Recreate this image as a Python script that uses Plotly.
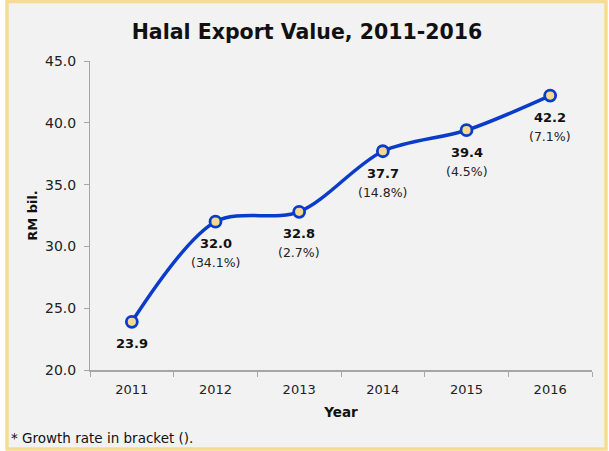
import plotly.graph_objects as go

years = ["2011", "2012", "2013", "2014", "2015", "2016"]
values = [23.9, 32.0, 32.8, 37.7, 39.4, 42.2]
growth = ["", "(34.1%)", "(2.7%)", "(14.8%)", "(4.5%)", "(7.1%)"]
y_ticks = [20, 25, 30, 35, 40, 45]

FONT = "DejaVu Sans"
W, H = 609, 451
ML, MR, MT, MB = 90, 17, 61, 81
pw = W - ML - MR
ph = H - MT - MB

def px(x):
    return (x - ML) / pw

def py(y):
    return (H - MB - y) / ph

fig = go.Figure()
fig.add_trace(go.Scatter(
    x=years, y=values, mode="lines+markers",
    line=dict(color="#0A3CCB", width=3.5, shape="spline", smoothing=0.9),
    marker=dict(size=11, color="#F6D98E", line=dict(color="#0A3CCB", width=2.8)),
    hoverinfo="skip", showlegend=False,
))

for i, (v, g) in enumerate(zip(values, growth)):
    fig.add_annotation(x=i, y=v, xref="x", yref="y", text=f"<b>{v:.1f}</b>",
                       showarrow=False, yanchor="middle", yshift=-22,
                       font=dict(family=FONT, size=13, color="#111111"))
    if g:
        fig.add_annotation(x=i, y=v, xref="x", yref="y", text=g,
                           showarrow=False, yanchor="middle", yshift=-41,
                           font=dict(family=FONT, size=12.5, color="#222222"))

fig.add_shape(type="rect", xref="paper", yref="paper", layer="below",
              x0=px(7), x1=px(606), y0=py(449), y1=py(1.5),
              fillcolor="#F2F2F2", line=dict(color="#F6DB93", width=3.5))

fig.add_annotation(xref="paper", yref="paper", x=px(9), y=py(438), xanchor="left",
                   yanchor="middle", text="* Growth rate in bracket ().", showarrow=False,
                   font=dict(family=FONT, size=13.5, color="#111111"))

fig.update_layout(
    width=W, height=H,
    margin=dict(l=ML, r=MR, t=MT, b=MB),
    paper_bgcolor="#FFFFFF", plot_bgcolor="rgba(0,0,0,0)",
    title=dict(text="<b>Halal Export Value, 2011-2016</b>", xref="container",
               x=307 / W, xanchor="center", yref="container",
               y=1 - 32 / H, yanchor="middle",
               font=dict(family=FONT, size=20.5, color="#111111")),
    font=dict(family=FONT, color="#222222"),
)
fig.update_xaxes(type="category", range=[-0.5, 5.5], showgrid=False, showline=True,
                 linecolor="#A6A6A6", linewidth=1.5, ticks="outside", tickson="boundaries",
                 tickcolor="#A6A6A6", ticklen=5, ticklabelstandoff=7,
                 tickfont=dict(family=FONT, size=13, color="#222222"),
                 title=dict(text="<b>Year</b>", font=dict(family=FONT, size=13.5, color="#111111"),
                            standoff=11))
fig.update_yaxes(range=[20, 45], tickvals=y_ticks, tickformat=".1f", showgrid=False,
                 showline=True, linecolor="#A6A6A6", linewidth=1, ticks="outside",
                 tickcolor="#A6A6A6", ticklen=5, zeroline=False, ticklabelstandoff=5,
                 tickfont=dict(family=FONT, size=14, color="#222222"),
                 title=dict(text="<b>RM bil.</b>", font=dict(family=FONT, size=13, color="#111111"),
                            standoff=4))

fig.write_html("out.html", config={"displayModeBar": False},
               post_script="document.body.style.margin='0px';")
